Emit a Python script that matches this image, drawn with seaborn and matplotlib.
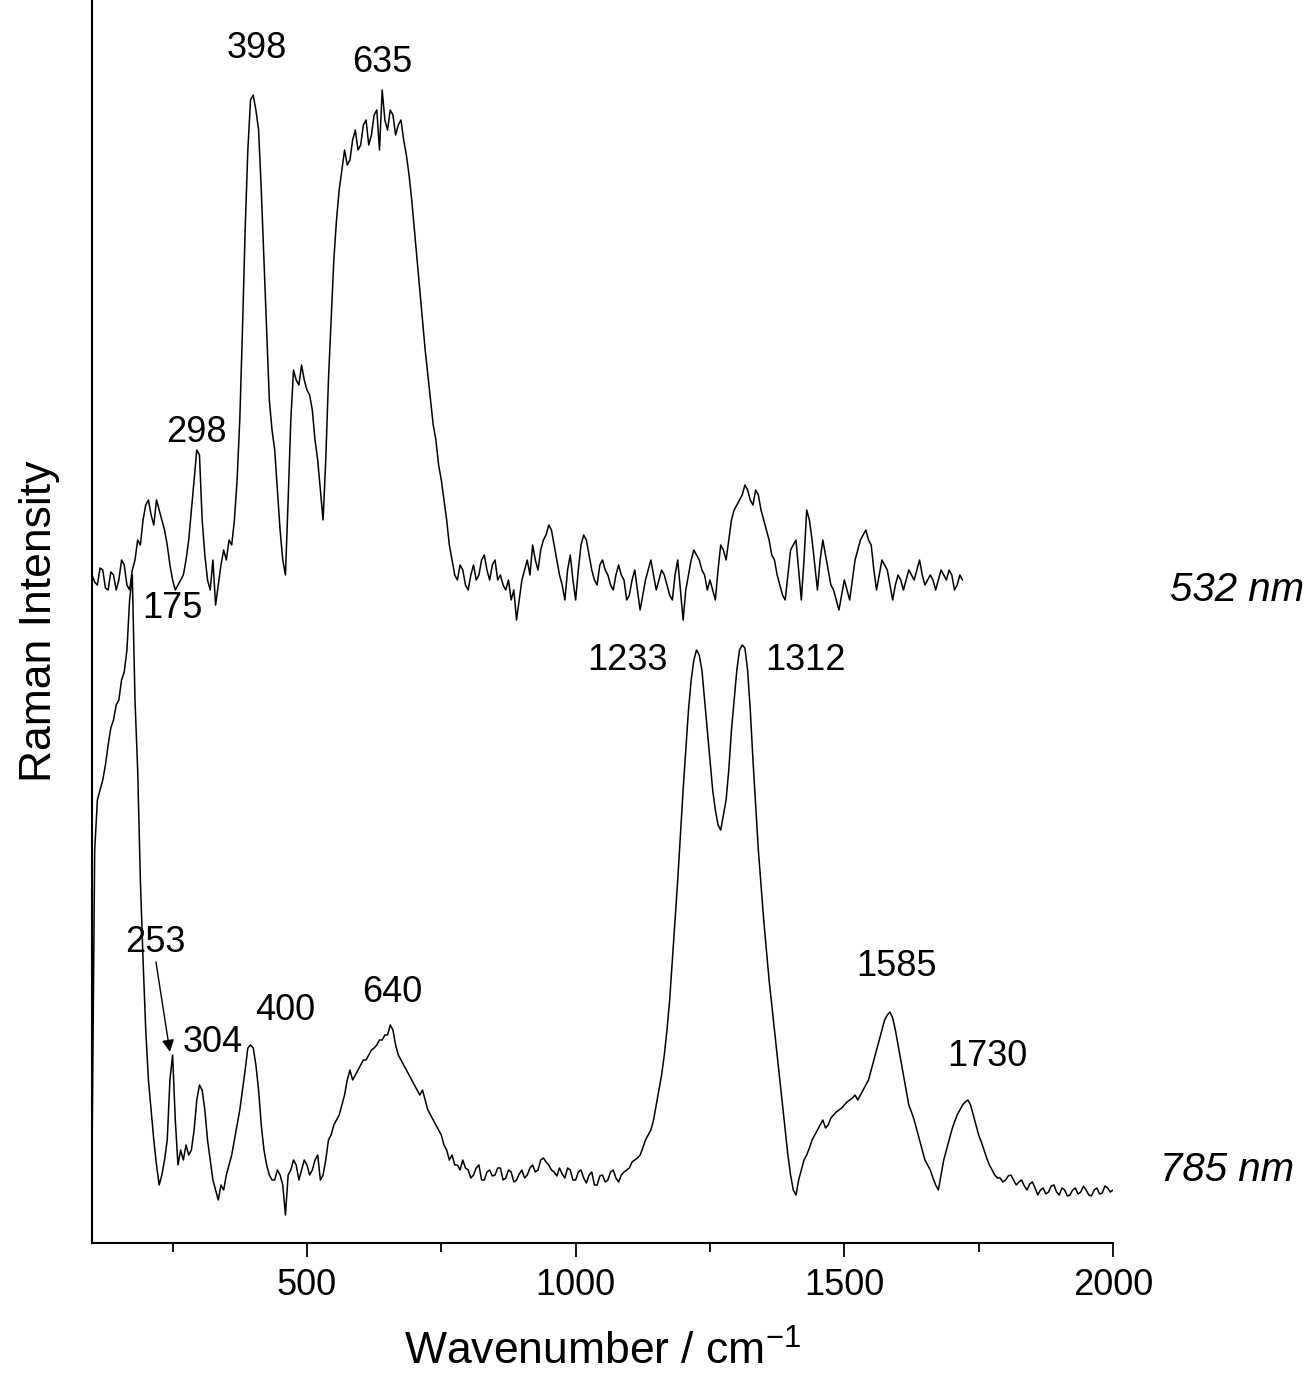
import numpy as np
import pandas as pd
import matplotlib
matplotlib.use("Agg")
import matplotlib.pyplot as plt
import seaborn as sns

# ---------------- data (intensity = height above x-axis, a.u.) ----
# 532 nm spectrum, sampled every 5 cm-1 from 100 to 1720 (values = pixel row in the picture)
wn_532 = list(range(100, 1721, 5))
int_532_px = [
    575, 582, 585, 568, 570, 588, 590, 572, 575, 590, 580, 560, 565, 585, 590, 570, 560, 540, 545, 520,
    505, 500, 515, 525, 500, 510, 520, 530, 545, 565, 580, 590, 585, 580, 575, 560, 540, 510, 480, 450,
    455, 520, 555, 580, 590, 560, 605, 585, 565, 550, 560, 540, 545, 520, 480, 420, 330, 230, 150, 100,
    95, 110, 130, 190, 260, 330, 400, 430, 450, 490, 530, 560, 575, 500, 420, 370, 380, 385, 365, 380,
    390, 395, 410, 440, 460, 490, 520, 460, 380, 320, 260, 220, 190, 170, 150, 165, 160, 140, 130, 150,
    145, 125, 120, 145, 135, 115, 110, 150, 90, 120, 130, 110, 115, 135, 125, 120, 140, 155, 175, 200,
    230, 260, 290, 320, 350, 375, 400, 425, 440, 465, 480, 500, 520, 545, 560, 575, 580, 565, 570, 585,
    590, 575, 565, 580, 575, 560, 555, 570, 580, 565, 560, 580, 575, 585, 590, 580, 600, 590, 620, 600,
    580, 570, 560, 575, 545, 560, 570, 550, 540, 535, 525, 530, 545, 560, 575, 585, 600, 570, 555, 580,
    600, 570, 545, 535, 540, 555, 570, 580, 585, 565, 560, 570, 575, 585, 590, 575, 565, 575, 580, 600,
    595, 580, 570, 590, 610, 595, 580, 570, 560, 575, 590, 580, 570, 575, 585, 595, 600, 575, 560, 590,
    620, 590, 575, 560, 550, 555, 560, 570, 575, 590, 580, 590, 600, 570, 545, 550, 560, 540, 520, 510,
    505, 500, 495, 485, 490, 500, 505, 490, 495, 510, 520, 530, 540, 555, 560, 575, 585, 595, 600, 575,
    550, 545, 540, 570, 600, 560, 510, 520, 540, 565, 590, 560, 540, 555, 570, 585, 590, 600, 610, 595,
    580, 590, 600, 580, 560, 550, 540, 535, 530, 540, 545, 570, 590, 575, 560, 565, 570, 585, 600, 585,
    575, 580, 590, 580, 570, 575, 580, 570, 560, 575, 585, 580, 575, 580, 590, 580, 570, 575, 580, 570,
    575, 590, 585, 575, 580,
]

# 785 nm spectrum, sampled every 5 cm-1 from 100 to 2000
wn_785 = list(range(100, 2001, 5))
int_785_px = [
    1160, 850, 800, 790, 780, 765, 745, 728, 720, 705, 700, 680, 672, 650, 600, 575, 700, 770, 880, 960,
    1030, 1080, 1110, 1140, 1165, 1185, 1175, 1160, 1140, 1080, 1055, 1120, 1165, 1150, 1160, 1145, 1155, 1150, 1130, 1100,
    1085, 1090, 1110, 1140, 1160, 1180, 1190, 1200, 1185, 1190, 1175, 1165, 1155, 1140, 1125, 1110, 1090, 1070, 1048, 1045,
    1048, 1065, 1090, 1125, 1150, 1165, 1175, 1180, 1180, 1170, 1175, 1185, 1215, 1175, 1170, 1160, 1165, 1180, 1170, 1160,
    1165, 1175, 1170, 1160, 1155, 1180, 1175, 1160, 1140, 1135, 1125, 1120, 1115, 1105, 1095, 1080, 1070, 1080, 1075, 1070,
    1065, 1060, 1060, 1055, 1050, 1048, 1045, 1040, 1040, 1035, 1035, 1025, 1030, 1045, 1055, 1060, 1065, 1070, 1075, 1080,
    1085, 1090, 1095, 1090, 1100, 1110, 1115, 1120, 1125, 1130, 1135, 1145, 1150, 1160, 1155, 1165, 1165, 1170, 1160, 1168,
    1170, 1178, 1175, 1168, 1165, 1180, 1180, 1172, 1170, 1176, 1175, 1168, 1168, 1180, 1178, 1170, 1172, 1182, 1180, 1174,
    1170, 1178, 1175, 1168, 1165, 1172, 1170, 1160, 1158, 1162, 1165, 1170, 1172, 1176, 1168, 1174, 1178, 1168, 1170, 1180,
    1180, 1172, 1170, 1178, 1183, 1175, 1172, 1185, 1185, 1176, 1175, 1182, 1180, 1172, 1170, 1178, 1182, 1175, 1172, 1170,
    1168, 1162, 1160, 1158, 1155, 1148, 1140, 1135, 1130, 1120, 1105, 1090, 1075, 1055, 1030, 1000, 960, 920, 880, 835,
    790, 750, 710, 680, 660, 650, 655, 670, 700, 730, 760, 790, 810, 825, 830, 815, 800, 770, 730, 700,
    670, 650, 645, 648, 670, 710, 760, 805, 850, 885, 920, 950, 980, 1005, 1030, 1055, 1080, 1105, 1130, 1155,
    1175, 1190, 1195, 1180, 1170, 1160, 1155, 1148, 1140, 1135, 1130, 1125, 1120, 1128, 1125, 1118, 1115, 1112, 1110, 1108,
    1105, 1102, 1100, 1098, 1095, 1100, 1095, 1090, 1085, 1080, 1070, 1060, 1050, 1040, 1030, 1020, 1015, 1012, 1018, 1030,
    1045, 1060, 1075, 1090, 1105, 1112, 1120, 1130, 1140, 1150, 1160, 1165, 1170, 1178, 1185, 1190, 1175, 1160, 1150, 1140,
    1130, 1122, 1115, 1110, 1105, 1102, 1100, 1105, 1115, 1125, 1135, 1142, 1150, 1158, 1165, 1170, 1175, 1178, 1178, 1182,
    1180, 1176, 1175, 1180, 1185, 1182, 1180, 1186, 1190, 1184, 1182, 1188, 1195, 1190, 1188, 1194, 1192, 1186, 1185, 1192,
    1195, 1188, 1190, 1196, 1195, 1190, 1188, 1194, 1192, 1186, 1190, 1195, 1196, 1190, 1188, 1194, 1193, 1186, 1188, 1192,
    1190,
]

AX_H = 1243  # intensity scale: 0 at the x-axis, 1243 at the top of the axes
int_532 = [AX_H - v for v in int_532_px]
int_785 = [AX_H - v for v in int_785_px]

peak_labels = ["398", "635", "298", "175", "1233", "1312",
               "253", "304", "400", "640", "1585", "1730"]
peak_label_x = [407, 640, 295, 249, 1097, 1427, 217, 325, 459, 658, 1598, 1767]
peak_label_y = [1195, 1181, 811, 635, 583, 583, 300, 201, 233, 251, 276, 186]

series_names = ["532 nm", "785 nm"]
series_label_x = [2230, 2212]
series_label_y = [653, 73]

xticks_major = [500, 1000, 1500, 2000]
xticks_minor = [250, 750, 1250, 1750]

# ---------------- plotting -------------
sns.set_theme(style="ticks")
plt.rcParams["font.family"] = ["Liberation Sans", "DejaVu Sans"]
plt.rcParams["mathtext.fontset"] = "custom"
plt.rcParams["mathtext.rm"] = "Liberation Sans"
plt.rcParams["mathtext.it"] = "Liberation Sans:italic"
plt.rcParams["text.color"] = "black"
plt.rcParams["axes.labelcolor"] = "black"
plt.rcParams["xtick.color"] = "black"
plt.rcParams["xtick.labelcolor"] = "black"

fig = plt.figure(figsize=(13.14, 13.73), dpi=100)
ax = fig.add_axes([92 / 1314, 1 - 1243 / 1373, 1021 / 1314, 1243 / 1373])

df532 = pd.DataFrame({"wn": wn_532, "I": int_532})
df785 = pd.DataFrame({"wn": wn_785, "I": int_785})
sns.lineplot(data=df532, x="wn", y="I", ax=ax, color="black", lw=1.1,
             estimator=None, sort=False)
sns.lineplot(data=df785, x="wn", y="I", ax=ax, color="black", lw=1.1,
             estimator=None, sort=False)

ax.set_xlim(100, 2000)
ax.set_ylim(0, AX_H)
ax.set_xticks(xticks_major)
ax.set_xticks(xticks_minor, minor=True)
ax.set_yticks([])
ax.tick_params(axis="x", which="major", direction="out", length=10, width=1.3,
               labelsize=26, pad=8, colors="black")
ax.tick_params(axis="x", which="minor", direction="out", length=6.5, width=1.3,
               colors="black")
for s in ["top", "right"]:
    ax.spines[s].set_visible(False)
for s in ["left", "bottom"]:
    ax.spines[s].set_linewidth(1.5)
    ax.spines[s].set_color("black")

ax.set_xlabel("Wavenumber / cm$^{-1}$", fontsize=32, labelpad=20, color="black")
ax.set_ylabel("Raman Intensity", fontsize=32, color="black")
ax.yaxis.set_label_coords(-0.031, 0.5)

for t, x, y in zip(peak_labels, peak_label_x, peak_label_y):
    ax.text(x, y, t, fontsize=26, ha="center", va="center", color="black")

ax.annotate("", xy=(245, 191), xytext=(219, 281),
            arrowprops=dict(arrowstyle="-|>", color="black", lw=1.0,
                            mutation_scale=18, shrinkA=0, shrinkB=0))

for t, x, y in zip(series_names, series_label_x, series_label_y):
    ax.text(x, y, t, fontsize=29, style="italic", ha="center", va="center",
            clip_on=False, color="black")

fig.savefig("out.png", dpi=100, facecolor="white")
